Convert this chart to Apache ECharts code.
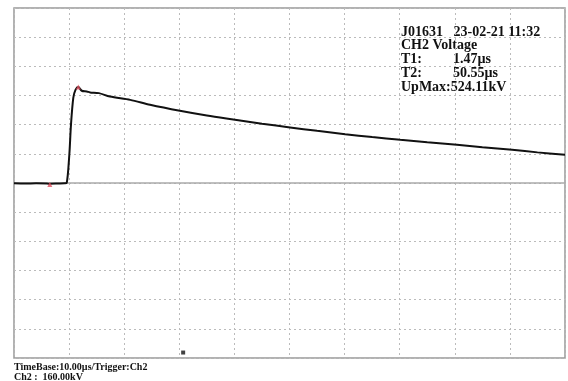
<!DOCTYPE html>
<html>
<head>
<meta charset="utf-8">
<script src="https://cdn.jsdelivr.net/npm/echarts@6/dist/echarts.min.js"></script>
<style>html,body{margin:0;padding:0;background:#fff}#c{width:568px;height:381px}</style>
</head>
<body>
<div id="c"></div>
<script>
// time in microseconds, voltage in kV
const timeUs = [0, 2, 4, 6, 6.5, 8, 9.2, 9.56, 10.04, 10.34, 10.76, 11.16, 11.67, 12.3, 13.2, 13.8, 15.4, 17.4, 21.1, 24.7, 30.1, 35, 40.1, 45, 50.1, 55, 60.1, 65, 70.1, 75, 80.4, 85, 90.4, 95, 100];
const voltKv = [-2, -3, -2, -3, -4, -3, -2, 0, 155, 319, 467, 511, 526, 506, 502, 497, 493, 474, 456, 429, 396, 370, 347, 325, 305, 286, 268, 252, 237, 224, 210, 196, 182, 168, 155];
const redMarks = [[11.67, 526], [6.5, -8]];
const triggerMark = [[30.7, -930]];
const infoLines = ['J01631   23-02-21 11:32', 'CH2 Voltage'];
const paramNames = ['T1:', 'T2:'];
const paramValues = ['1.47\u00b5s', '50.55\u00b5s'];
const upMax = 'UpMax:524.11kV';
const footer = ['TimeBase:10.00\u00b5s/Trigger:Ch2', 'Ch2 :  160.00kV'];

const chart = echarts.init(document.getElementById('c'), null, {renderer: 'canvas'});
const font = 'Liberation Serif, Times New Roman, serif';
const txt = (x, y, s, size) => ({type: 'text', x: x, y: y,
  style: {text: s, font: 'bold ' + size + 'px ' + font, fill: '#111', verticalAlign: 'middle'}});

chart.setOption({
  animation: false,
  grid: {left: 14, top: 8, width: 551, height: 350, show: true, borderColor: '#999', borderWidth: 1.5, backgroundColor: '#fff'},
  xAxis: {type: 'value', min: 0, max: 100, interval: 10,
    axisLine: {show: true, onZero: true, lineStyle: {color: '#aaa', width: 1.5}},
    axisTick: {show: false}, axisLabel: {show: false},
    splitLine: {show: true, lineStyle: {color: '#bbb', type: [2, 3], width: 1}}},
  yAxis: {type: 'value', min: -960, max: 960, interval: 160,
    axisLine: {show: false}, axisTick: {show: false}, axisLabel: {show: false},
    splitLine: {show: true, lineStyle: {color: '#bbb', type: [2, 3], width: 1}}},
  series: [
    {type: 'line', data: timeUs.map((t, i) => [t, voltKv[i]]), showSymbol: false, smooth: 0.3,
      lineStyle: {color: '#111', width: 2}, z: 5},
    {type: 'scatter', data: redMarks, symbol: 'triangle', symbolSize: 5, itemStyle: {color: '#e05060'}, z: 6},
    {type: 'scatter', data: triggerMark, symbol: 'rect', symbolSize: 4, itemStyle: {color: '#111'}, z: 6}
  ],
  graphic: [
    txt(401, 32, infoLines[0], 14),
    txt(401, 45.5, infoLines[1], 14),
    txt(401, 59.5, paramNames[0], 14), txt(453, 59.5, paramValues[0], 14),
    txt(401, 73, paramNames[1], 14), txt(453, 73, paramValues[1], 14),
    txt(401, 87, upMax, 14),
    txt(14, 367, footer[0], 10),
    txt(14, 377, footer[1], 10)
  ]
});
</script>
</body>
</html>
